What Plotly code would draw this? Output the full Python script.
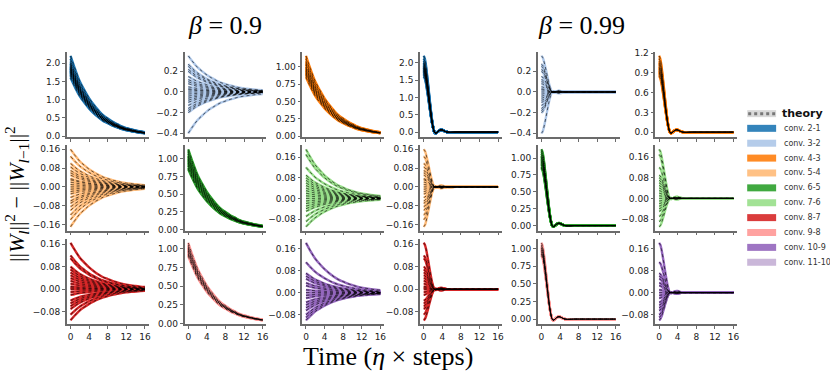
import plotly.graph_objects as go

# legend / panel names and tab20 colours
conv_names = ["conv. 2-1", "conv. 3-2", "conv. 4-3", "conv. 5-4", "conv. 6-5",
              "conv. 7-6", "conv. 8-7", "conv. 9-8", "conv. 10-9", "conv. 11-10"]
conv_colors = ["#1f77b4", "#aec7e8", "#ff7f0e", "#ffbb78", "#2ca02c",
               "#98df8a", "#d62728", "#ff9896", "#9467bd", "#c5b0d5"]
beta_titles = ["<i>β</i> = 0.9", "<i>β</i> = 0.99"]

# relative decay profile (value / value at t=0)
t_b09 = [0, 1, 2, 3, 4, 5, 6, 7, 8, 9, 10, 11, 12, 13, 14, 15, 16]
decay_b09 = [1.0, 0.83, 0.68, 0.57, 0.47, 0.39, 0.32, 0.26, 0.22, 0.18,
             0.15, 0.12, 0.10, 0.085, 0.07, 0.058, 0.048]
t_b099 = [0, 0.25, 0.5, 0.75, 1.0, 1.25, 1.5, 1.75, 2.0, 2.25, 2.5, 2.75, 3.0,
          3.25, 3.5, 3.75, 4.0, 4.25, 4.5, 5.0, 5.5, 6, 7, 8, 10, 12, 14, 16]
decay_b099 = [1.0, 0.96, 0.87, 0.74, 0.6, 0.45, 0.31, 0.18, 0.08, 0.01, -0.015,
              -0.01, 0.005, 0.02, 0.03, 0.035, 0.032, 0.025, 0.015, 0.002,
              -0.003, -0.003, 0.0, 0.0, 0.0, 0.0, 0.0, 0.0]

# starting value of ||W_l||^2 - ||W_{l-1}||^2 for each channel
init_2_1 = [2.2, 2.12, 2.05, 2.0, 1.98, 1.95, 1.92, 1.9, 1.88, 1.86, 1.85, 1.83,
            1.81, 1.8, 1.78, 1.76, 1.75, 1.73, 1.7, 1.68, 1.65, 1.6]
init_3_2 = [0.35, 0.27, 0.25, 0.22, 0.2, 0.15, 0.12, 0.1, 0.08, 0.05, 0.03, 0.02,
            0.0, -0.02, -0.04, -0.06, -0.08, -0.1, -0.13, -0.16, -0.18, -0.2, -0.4]
init_4_3 = [1.16, 1.12, 1.08, 1.05, 1.03, 1.0, 0.98, 0.96, 0.94, 0.92, 0.9, 0.88, 0.85]
init_5_4 = [0.16, 0.13, 0.1, 0.085, 0.07, 0.06, 0.05, 0.035, 0.03, 0.02, 0.01, 0.0,
            -0.01, -0.02, -0.03, -0.045, -0.06, -0.07, -0.085, -0.1, -0.12, -0.14, -0.17]
init_6_5 = [1.13, 1.1, 1.07, 1.04, 1.02, 1.0, 0.98, 0.96, 0.94, 0.92, 0.9, 0.87, 0.85]
init_7_6 = [0.19, 0.17, 0.12, 0.09, 0.08, 0.07, 0.06, 0.05, 0.04, 0.03, 0.02, 0.01,
            0.0, -0.01, -0.02, -0.03, -0.04, -0.05, -0.07, -0.09, -0.11]
init_8_7 = [0.165, 0.12, 0.11, 0.08, 0.07, 0.06, 0.05, 0.04, 0.03, 0.02, 0.01, 0.005,
            0.0, -0.01, -0.02, -0.04, -0.05, -0.06, -0.07, -0.09, -0.11]
init_9_8 = [1.08, 1.05, 1.03, 1.01, 1.0, 0.98, 0.97, 0.95, 0.93, 0.92, 0.9]
init_10_9 = [0.18, 0.11, 0.07, 0.06, 0.05, 0.035, 0.025, 0.01, 0.0, -0.01, -0.02,
             -0.035, -0.045, -0.055, -0.065, -0.08, -0.09, -0.1]
inits = [init_2_1, init_3_2, init_4_3, init_5_4, init_6_5, init_7_6,
         init_8_7, init_9_8, init_10_9]

# y tick labels for each conv pair
yticks = [[0, 0.5, 1.0, 1.5, 2.0], [-0.4, -0.2, 0.0, 0.2], [0, 0.25, 0.5, 0.75, 1.0],
          [-0.16, -0.08, 0, 0.08, 0.16], [0, 0.25, 0.5, 0.75, 1.0], [-0.08, 0, 0.08, 0.16],
          [-0.08, 0, 0.08, 0.16], [0, 0.25, 0.5, 0.75, 1.0], [-0.08, 0, 0.08, 0.16]]
yticks_b099_4_3 = [0, 0.3, 0.6, 0.9, 1.2]
xticks = [0, 4, 8, 12, 16]

W, H = 830, 381
fig = go.Figure()
axis_col = "#6b6b6b"
tickfont = dict(family="DejaVu Sans", size=9, color="#222")

n = 0
for row in range(3):
    for col in range(6):
        n += 1
        beta = col // 3
        k = row * 3 + col % 3
        t, prof = (t_b09, decay_b09) if beta == 0 else (t_b099, decay_b099)
        xs, ys = [], []
        for v in inits[k]:
            xs += t + [None]
            ys += [v * p for p in prof] + [None]
        sfx = "" if n == 1 else str(n)
        fig.add_trace(go.Scatter(x=xs, y=ys, mode="lines", line_shape="spline",
                                 line=dict(color=conv_colors[k], width=2.4),
                                 xaxis="x" + sfx, yaxis="y" + sfx, showlegend=False,
                                 hoverinfo="skip"))
        fig.add_trace(go.Scatter(x=xs, y=ys, mode="lines", line_shape="spline",
                                 line=dict(color="rgba(0,0,0,0.65)", width=0.9, dash="dot"),
                                 xaxis="x" + sfx, yaxis="y" + sfx, showlegend=False,
                                 hoverinfo="skip"))
        vals = [y for y in ys if y is not None]
        lo, hi = min(vals), max(vals)
        pad = 0.05 * (hi - lo)
        tv = yticks_b099_4_3 if (beta == 1 and k == 2) else yticks[k]
        fmt = ".1f" if (k in (0, 1) or (beta == 1 and k == 2)) else ".2f"
        x0 = 67 + 118 * col
        y0 = 49 + 95.5 * row
        fig.layout["xaxis" + sfx] = dict(
            domain=[x0 / W, (x0 + 82) / W], anchor="y" + sfx, range=[-0.8, 16.8],
            tickvals=xticks, showticklabels=(row == 2), ticks="outside", ticklen=3,
            tickcolor=axis_col, showline=True, linecolor=axis_col, linewidth=1.5,
            showgrid=False, zeroline=False, tickfont=tickfont)
        fig.layout["yaxis" + sfx] = dict(
            domain=[1 - (y0 + 87) / H, 1 - y0 / H], anchor="x" + sfx,
            range=[lo - pad, hi + pad], tickvals=tv, tickformat=fmt, ticks="outside",
            ticklen=3, tickcolor=axis_col, showline=True, linecolor=axis_col,
            linewidth=1.5, showgrid=False, zeroline=False, tickfont=tickfont)

serif = "Liberation Serif"
ann = [
    dict(text=beta_titles[0], x=226 / W, y=1 - 22 / H, font=dict(family=serif, size=26)),
    dict(text=beta_titles[1], x=583 / W, y=1 - 22 / H, font=dict(family=serif, size=26)),
    dict(text="Time (<i>η</i> × steps)", x=389 / W, y=1 - 360 / H,
         font=dict(family=serif, size=26)),
    dict(text="||<i>W<sub>l</sub></i>||<sup>2</sup> − ||<i>W</i><sub><i>l</i>−1</sub>||<sup>2</sup>",
         x=17 / W, y=1 - 194 / H, textangle=-90, font=dict(family=serif, size=22)),
]
for a in ann:
    a["font"]["color"] = "black"
    a.update(xref="paper", yref="paper", showarrow=False, xanchor="center", yanchor="middle")

# legend drawn at the right
shapes = []
ly = 112
shapes.append(dict(type="line", xref="paper", yref="paper", x0=749 / W, x1=778 / W,
                   y0=1 - ly / H, y1=1 - ly / H, line=dict(color="#d9d9d9", width=7)))
shapes.append(dict(type="line", xref="paper", yref="paper", x0=750 / W, x1=777 / W,
                   y0=1 - ly / H, y1=1 - ly / H, line=dict(color="#777", width=3, dash="dot")))
ann.append(dict(text="<b>theory</b>", x=782 / W, y=1 - ly / H, xref="paper", yref="paper",
                showarrow=False, xanchor="left", yanchor="middle",
                font=dict(family="DejaVu Sans", size=11, color="#111")))
for i, (name, c) in enumerate(zip(conv_names, conv_colors)):
    yy = 1 - (127 + 15.2 * i) / H
    shapes.append(dict(type="line", xref="paper", yref="paper", x0=749 / W, x1=778 / W,
                       y0=yy, y1=yy, opacity=0.9, line=dict(color=c, width=7)))
    ann.append(dict(text=name, x=784 / W, y=yy, xref="paper", yref="paper",
                    showarrow=False, xanchor="left", yanchor="middle",
                    font=dict(family="DejaVu Sans", size=8, color="#333")))

fig.update_layout(width=W, height=H, margin=dict(l=0, r=0, t=0, b=0),
                  plot_bgcolor="white", paper_bgcolor="white", showlegend=False,
                  annotations=ann, shapes=shapes)
fig.write_html("out.html", config={"displayModeBar": False},
               post_script="document.body.style.margin='0';document.body.style.overflow='hidden';")
